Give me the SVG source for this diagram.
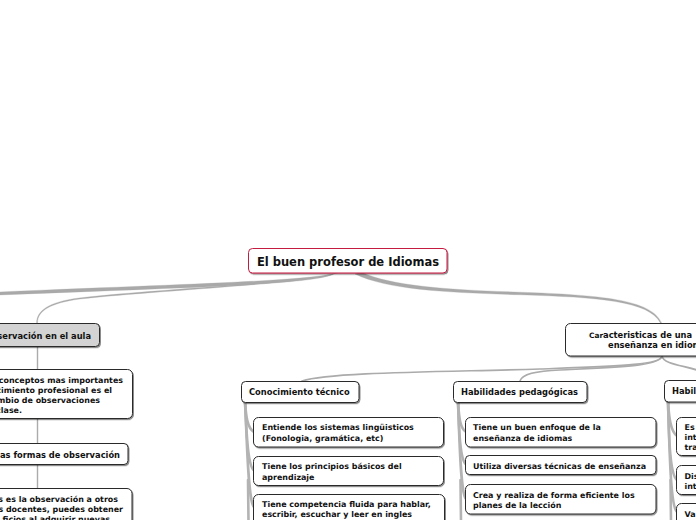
<svg xmlns="http://www.w3.org/2000/svg" width="696" height="520" viewBox="0 0 696 520">
<defs>
<filter id="sh" x="-10%" y="-20%" width="130%" height="160%">
<feDropShadow dx="1" dy="1.2" stdDeviation="0.7" flood-color="#000" flood-opacity="0.45"/>
</filter>
<style>
text{font-family:"DejaVu Sans",Verdana,sans-serif;font-weight:bold;fill:#111}
.t{font-size:7.95px}
.h{font-size:8.3px}
.root{font-size:11.5px}
.box{fill:#fff;stroke:#2a2a2a;stroke-width:1;filter:url(#sh)}
.gray{fill:#d3d3d3}
.rootbox{fill:#fff;stroke:#c41a3f;stroke-width:1;filter:url(#sh)}
.ln{fill:none;stroke:#ababab;stroke-linecap:round}
.tp{fill:#a9a9a9;stroke:#a9a9a9;stroke-width:0.3}
.tr{fill:none;stroke:#b3b3b3;stroke-width:2.6;stroke-linecap:round}
</style>
</defs>
<g id="connectors">
<path class="tp" d="M 338 272.5 C 310 281, 200 283.5, -2 292 L -2 295 C 200 287, 312 284.5, 334 274 Z"/>
<path class="tp" d="M 333 274.5 C 300 284, 150 291, 80 299 C 50 303, 37.5 311, 37.5 323 L 36.6 323 C 36.6 311, 48 302, 79 298 C 150 289.8, 298 282.5, 329 275 Z"/>
<path class="tp" d="M 361 272 C 392 286.5, 452 290, 520 292.2 C 601 295, 651.5 299.5, 661.6 323 L 660.4 323 C 649 301, 599 297.3, 520 294.8 C 448 292.6, 388 290, 355 274 Z"/>
<path class="ln" stroke-width="1.7" d="M 662 356 C 661 365, 620 366, 540 369 C 440 372, 330 372, 302 381"/>
<path class="ln" stroke-width="1.6" d="M 662 356 C 661 366, 620 367, 560 370 C 535 371, 522 374, 520 381"/>
<path class="ln" stroke-width="1.7" d="M 662 356 C 663 365, 690 366, 702 372"/>
<path class="ln" stroke-width="1.4" d="M 37.5 346 L 37.5 490"/>
<path class="tr" d="M 245 402 C 246 415, 247 428, 254 432"/>
<path class="tr" d="M 245 402 C 246.5 430, 247.5 466, 254 470.5"/>
<path class="tr" d="M 245 402 C 247 440, 248 502, 254 507"/>
<path class="tr" d="M 248 480 L 248.5 522"/>
<path class="tr" d="M 458 402 C 459 415, 459.5 428, 466 432"/>
<path class="tr" d="M 458 402 C 459 430, 460 460, 466 464.5"/>
<path class="tr" d="M 458 402 C 459.5 440, 460.5 494, 466 499"/>
<path class="tr" d="M 460.5 480 L 461 522"/>
<path class="tr" d="M 668 402 C 669 415, 670 431, 677 436"/>
<path class="tr" d="M 668 402 C 669 440, 670 475, 677 480"/>
<path class="tr" d="M 668 402 C 669.5 450, 670.5 507, 677 512"/>
<path class="tr" d="M 670.5 480 L 671 522"/>
</g>
<g id="root">
<rect class="rootbox" x="248.5" y="248.5" width="198.5" height="24.5" rx="4"/>
<text class="root" x="348" y="265.5" text-anchor="middle">El buen profesor de Idiomas</text>
</g>
<g id="observacion">
<rect class="box gray" x="-30" y="323.5" width="129.5" height="23" rx="4"/>
<text class="h" x="91" y="338.5" text-anchor="end">Observación en el aula</text>
</g>
<g id="obs1">
<rect class="box" x="-30" y="369.5" width="162.5" height="49" rx="5"/>
<text class="t" x="123" y="382.5" text-anchor="end">conceptos mas importantes</text>
<text class="t" x="112" y="392.5" text-anchor="end">cimiento profesional es el</text>
<text class="t" x="100" y="402.5" text-anchor="end">mbio de observaciones</text>
<text class="t" x="22" y="412.5" text-anchor="end">clase.</text>
</g>
<g id="obs2">
<rect class="box" x="-30" y="443.5" width="158" height="21" rx="4"/>
<text class="h" x="120" y="457.5" text-anchor="end">as formas de observación</text>
</g>
<g id="obs3">
<rect class="box" x="-30" y="488.5" width="162" height="60" rx="5"/>
<text class="t" x="118" y="502" text-anchor="end">s es la observación a otros</text>
<text class="t" x="123" y="512" text-anchor="end">s docentes, puedes obtener</text>
<text class="t" x="110" y="522" text-anchor="end">ficios al adquirir nuevas</text>
</g>
<g id="caracteristicas">
<rect class="box" x="565.5" y="323.5" width="150" height="32.5" rx="5"/>
<text class="h" x="589" y="337.5"><tspan font-size="7.4">Car</tspan>acteristicas de una</text>
<text class="h" x="608" y="347.5">enseñanza en idiomas</text>
</g>
<g id="conocimiento">
<rect class="box" x="241.5" y="381.5" width="117.5" height="21" rx="4"/>
<text class="h" x="249" y="394.5">Conocimiento técnico</text>
</g>
<g id="c1">
<rect class="box" x="253.5" y="417.5" width="190" height="29.5" rx="5"/>
<text class="t" x="262" y="430">Entiende los sistemas lingüisticos</text>
<text class="t" x="262" y="440.5">(Fonologia, gramática, etc)</text>
</g>
<g id="c2">
<rect class="box" x="253.5" y="456.5" width="190" height="29" rx="5"/>
<text class="t" x="262" y="469">Tiene los principios básicos del</text>
<text class="t" x="262" y="479.5">aprendizaje</text>
</g>
<g id="c3">
<rect class="box" x="253.5" y="494.5" width="191" height="40" rx="5"/>
<text class="t" x="262" y="506.5">Tiene competencia fluida para hablar,</text>
<text class="t" x="262" y="517">escribir, escuchar y leer en ingles</text>
</g>
<g id="pedagogicas">
<rect class="box" x="453.5" y="381.5" width="133.5" height="21" rx="4"/>
<text class="h" x="461" y="394.5">Habilidades pedagógicas</text>
</g>
<g id="h1">
<rect class="box" x="465.5" y="417.5" width="190.5" height="29.5" rx="5"/>
<text class="t" x="473" y="430">Tiene un buen enfoque de la</text>
<text class="t" x="473" y="440.5">enseñanza de idiomas</text>
</g>
<g id="h2">
<rect class="box" x="465.5" y="455.5" width="190.5" height="19" rx="4"/>
<text class="t" x="473" y="468.5">Utiliza diversas técnicas de enseñanza</text>
</g>
<g id="h3">
<rect class="box" x="465.5" y="484.5" width="190.5" height="29.5" rx="5"/>
<text class="t" x="473" y="497.5">Crea y realiza de forma eficiente los</text>
<text class="t" x="473" y="507.5">planes de la lección</text>
</g>
<g id="habil">
<rect class="box" x="664.5" y="380.5" width="60" height="21.5" rx="4"/>
<text class="h" x="672" y="394">Habil</text>
</g>
<g id="r1">
<rect class="box" x="676.5" y="417.5" width="50" height="38" rx="5"/>
<text class="t" x="684.5" y="430">Es</text>
<text class="t" x="684.5" y="440">int</text>
<text class="t" x="684.5" y="450">tra</text>
</g>
<g id="r2">
<rect class="box" x="676.5" y="465.5" width="50" height="29" rx="5"/>
<text class="t" x="684.5" y="478.5">Dis</text>
<text class="t" x="684.5" y="488.5">int</text>
</g>
<g id="r3">
<rect class="box" x="676.5" y="503.5" width="50" height="40" rx="5"/>
<text class="t" x="684.5" y="516.5">Va</text>
</g>
</svg>
